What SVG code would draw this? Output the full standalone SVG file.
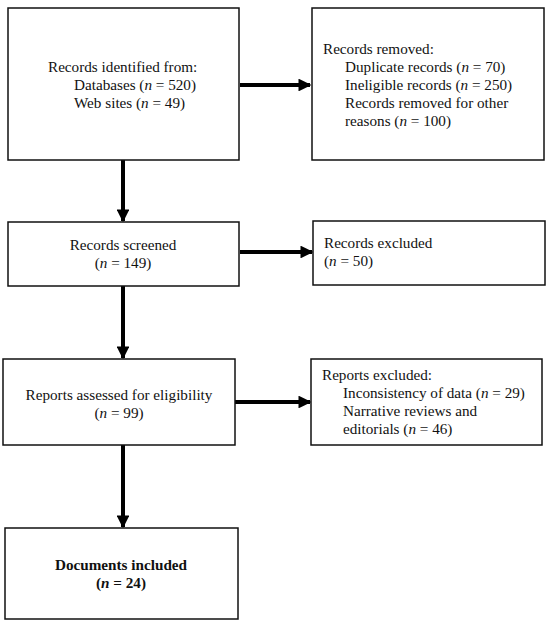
<svg xmlns="http://www.w3.org/2000/svg" width="550" height="624" viewBox="0 0 550 624">
<style>
.box{fill:#fff;stroke:#111;stroke-width:1.5}
.t{font-family:"Liberation Serif","DejaVu Serif",serif;font-size:15.2px;fill:#111}
.c{text-anchor:middle}
.b{font-weight:bold}
.ln{stroke:#000;stroke-width:4;fill:none}
</style>
<defs>
<marker id="ah" viewBox="0 0 10 10" refX="9" refY="5" markerWidth="3.2" markerHeight="3.2" orient="auto" markerUnits="strokeWidth">
<path d="M0,0 L10,5 L0,10 z" fill="#000"/>
</marker>
</defs>
<rect width="550" height="624" fill="#fff"/>
<g id="connectors">
<line class="ln" x1="240" y1="85" x2="310" y2="85" marker-end="url(#ah)"/>
<line class="ln" x1="123" y1="160" x2="123" y2="221" marker-end="url(#ah)"/>
<line class="ln" x1="240" y1="252" x2="312" y2="252" marker-end="url(#ah)"/>
<line class="ln" x1="123" y1="286" x2="123" y2="358" marker-end="url(#ah)"/>
<line class="ln" x1="235" y1="402" x2="310" y2="402" marker-end="url(#ah)"/>
<line class="ln" x1="123" y1="445" x2="123" y2="527" marker-end="url(#ah)"/>
</g>
<g id="identified">
<rect class="box" x="8" y="8" width="231" height="152"/>
<text class="t" x="48" y="72">Records identified from:</text>
<text class="t" x="74" y="90">Databases (<tspan font-style="italic">n</tspan> = 520)</text>
<text class="t" x="74" y="108">Web sites (<tspan font-style="italic">n</tspan> = 49)</text>
</g>
<g id="removed">
<rect class="box" x="312" y="8" width="232" height="152"/>
<text class="t" x="323" y="54">Records removed:</text>
<text class="t" x="345" y="72">Duplicate records (<tspan font-style="italic">n</tspan> = 70)</text>
<text class="t" x="345" y="90">Ineligible records (<tspan font-style="italic">n</tspan> = 250)</text>
<text class="t" x="345" y="108">Records removed for other</text>
<text class="t" x="345" y="126">reasons (<tspan font-style="italic">n</tspan> = 100)</text>
</g>
<g id="screened">
<rect class="box" x="8" y="222" width="231" height="64"/>
<text class="t c" x="123" y="250">Records screened</text>
<text class="t c" x="123" y="268">(<tspan font-style="italic">n</tspan> = 149)</text>
</g>
<g id="excluded">
<rect class="box" x="313" y="221" width="232" height="64"/>
<text class="t" x="324" y="248">Records excluded</text>
<text class="t" x="324" y="266">(<tspan font-style="italic">n</tspan> = 50)</text>
</g>
<g id="assessed">
<rect class="box" x="3" y="359" width="232" height="86"/>
<text class="t c" x="119" y="400">Reports assessed for eligibility</text>
<text class="t c" x="119" y="418">(<tspan font-style="italic">n</tspan> = 99)</text>
</g>
<g id="reports-excluded">
<rect class="box" x="311" y="359" width="231" height="86"/>
<text class="t" x="322" y="380">Reports excluded:</text>
<text class="t" x="343" y="398">Inconsistency of data (<tspan font-style="italic">n</tspan> = 29)</text>
<text class="t" x="343" y="416">Narrative reviews and</text>
<text class="t" x="343" y="434">editorials (<tspan font-style="italic">n</tspan> = 46)</text>
</g>
<g id="included">
<rect class="box" x="5" y="528" width="233" height="91"/>
<text class="t c b" x="121" y="570">Documents included</text>
<text class="t c b" x="121" y="588">(<tspan font-style="italic">n</tspan> = 24)</text>
</g>
</svg>
